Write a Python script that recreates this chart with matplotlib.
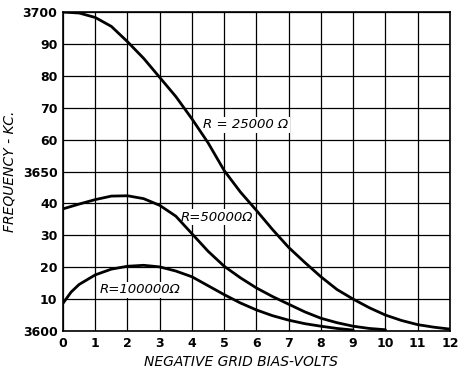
import numpy as np
import matplotlib
matplotlib.use('Agg')
import matplotlib.pyplot as plt

# grid bias (volts) and frequency (kc)
bias_25k = [0, 0.5, 1, 1.5, 2, 2.5, 3, 3.5, 4, 4.5, 5, 5.5, 6, 6.5, 7, 7.5, 8,
            8.5, 9, 9.5, 10, 10.5, 11, 11.5, 12]
freq_25k = [3700, 3699.7, 3698.3, 3695.5, 3690.7, 3685.5, 3679.5, 3673.5, 3666.5,
            3659, 3650.3, 3643.6, 3637.8, 3631.8, 3626.2, 3621.5, 3617, 3613,
            3610, 3607.3, 3605, 3603.3, 3602, 3601.2, 3600.6]

bias_50k = [0, 0.5, 1, 1.5, 2, 2.5, 3, 3.5, 4, 4.5, 5, 5.5, 6, 6.5, 7, 7.5, 8,
            8.5, 9, 9.5, 10]
freq_50k = [3638.3, 3639.8, 3641.2, 3642.3, 3642.4, 3641.5, 3639.4, 3636, 3630.5,
            3625, 3620.3, 3616.7, 3613.5, 3610.8, 3608.4, 3606, 3604, 3602.6,
            3601.5, 3600.8, 3600.4]

bias_100k = [0, 0.25, 0.5, 1, 1.5, 2, 2.5, 3, 3.5, 4, 4.5, 5, 5.5, 6, 6.5, 7,
             7.5, 8, 8.5, 9]
freq_100k = [3608.7, 3612.2, 3614.6, 3617.6, 3619.4, 3620.3, 3620.6, 3620.1,
             3618.8, 3617, 3614.2, 3611.4, 3608.8, 3606.6, 3604.8, 3603.4,
             3602.3, 3601.5, 3600.8, 3600.3]

xticks = list(range(13))
yticks = [3600, 3610, 3620, 3630, 3640, 3650, 3660, 3670, 3680, 3690, 3700]
ytick_labels = ['3600', '10', '20', '30', '40', '3650', '60', '70', '80', '90', '3700']

fig = plt.figure(figsize=(4.6, 3.77), dpi=100)
ax = fig.add_axes([0.137, 0.122, 0.841, 0.846])

for x, y in [(bias_25k, freq_25k), (bias_50k, freq_50k), (bias_100k, freq_100k)]:
    ax.plot(x, y, color='black', lw=2.0, solid_capstyle='round',
            solid_joinstyle='round', zorder=5)

ax.set_xlim(0, 12)
ax.set_ylim(3600, 3700)
ax.set_xticks(xticks)
ax.set_yticks(yticks)
ax.set_yticklabels(ytick_labels)
ax.tick_params(length=0, labelsize=9, pad=4)
for lab in ax.get_xticklabels() + ax.get_yticklabels():
    lab.set_fontweight('bold')
ax.grid(True, color='black', lw=0.9)
for s in ax.spines.values():
    s.set_linewidth(1.2)

box = dict(facecolor='white', edgecolor='none', pad=1)
ax.text(4.35, 3664.6, 'R = 25000 Ω', style='italic', fontsize=9.5, va='center',
        ha='left', zorder=4, bbox=box)
ax.text(3.65, 3635.7, 'R=50000Ω', style='italic', fontsize=9.5, va='center',
        ha='left', zorder=4, bbox=box)
ax.text(1.15, 3612.9, 'R=100000Ω', style='italic', fontsize=9.5, va='center',
        ha='left', zorder=4, bbox=box)

ax.set_xlabel('NEGATIVE GRID BIAS-VOLTS', style='italic', fontsize=10)
ax.xaxis.set_label_coords(0.46, -0.075)
ax.set_ylabel('FREQUENCY - KC.', style='italic', fontsize=10)
ax.yaxis.set_label_coords(-0.12, 0.5)

fig.savefig('out.png', dpi=100)
